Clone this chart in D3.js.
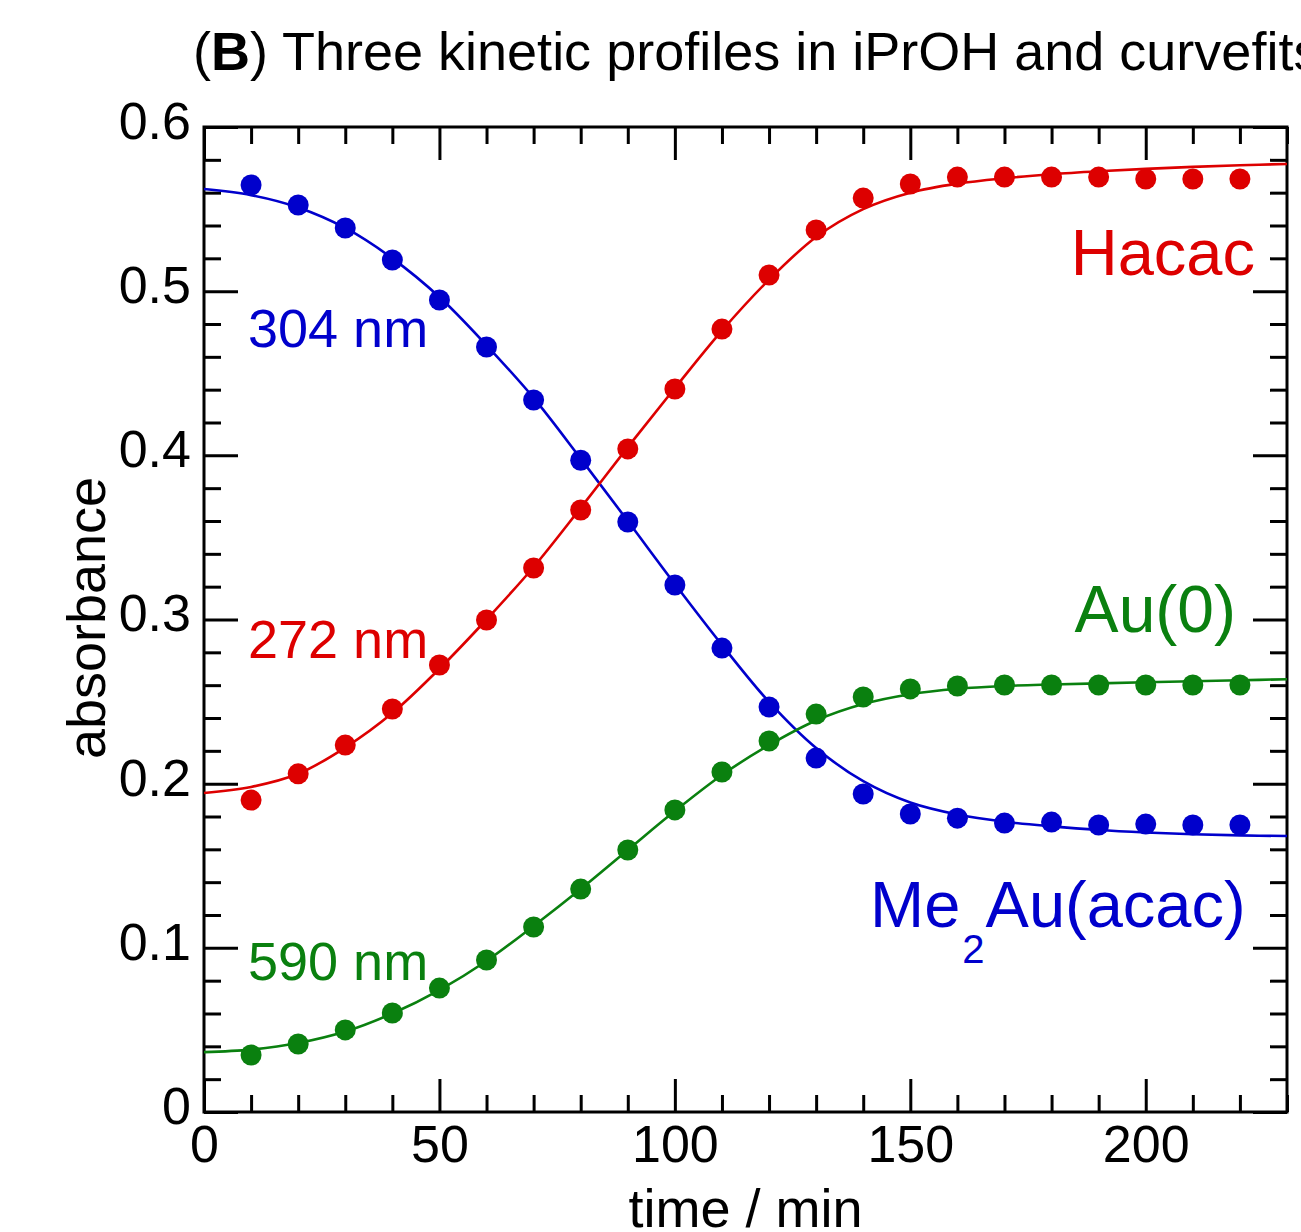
<!DOCTYPE html>
<html>
<head>
<meta charset="utf-8">
<script src="https://cdn.jsdelivr.net/npm/d3@7"></script>
<style>
  body { margin: 0; background: #fff; }
  svg { display: block; font-family: "Liberation Sans", Arial, sans-serif; }
</style>
</head>
<body>
<div id="chart"></div>
<script>
// measured points, time in min
const times = [10, 20, 30, 40, 50, 60, 70, 80, 90, 100, 110, 120, 130, 140, 150, 160, 170, 180, 190, 200, 210, 220];
const abs304 = [0.5647, 0.5525, 0.5385, 0.519, 0.4946, 0.466, 0.4337, 0.397, 0.3594, 0.321, 0.2826, 0.2467, 0.2156, 0.1937, 0.1815, 0.179, 0.176, 0.1766, 0.1748, 0.1754, 0.1748, 0.1748];
const abs272 = [0.190, 0.206, 0.2235, 0.2455, 0.2723, 0.2997, 0.3314, 0.3667, 0.4039, 0.4404, 0.4769, 0.5098, 0.5373, 0.5567, 0.5653, 0.5695, 0.5695, 0.5695, 0.5695, 0.5683, 0.5683, 0.5683];
const abs590 = [0.0347, 0.0414, 0.050, 0.0603, 0.0755, 0.0926, 0.1127, 0.1358, 0.1596, 0.184, 0.2071, 0.226, 0.2424, 0.2528, 0.2577, 0.2595, 0.2601, 0.2601, 0.2601, 0.2601, 0.2601, 0.2601];

const fitTimes = [0, 10, 20, 30, 40, 50, 60, 70, 80, 90, 100, 110, 120, 130, 140, 150, 160, 170, 180, 190, 200, 210, 220, 230];
const fit304 = [0.5622, 0.5585, 0.551, 0.5385, 0.520, 0.4964, 0.467, 0.435, 0.398, 0.360, 0.3216, 0.2845, 0.2498, 0.2217, 0.2015, 0.1885, 0.1812, 0.1768, 0.174, 0.1718, 0.1703, 0.1692, 0.1685, 0.1681];
const fit272 = [0.1943, 0.1980, 0.2060, 0.222, 0.243, 0.270, 0.300, 0.332, 0.368, 0.405, 0.441, 0.476, 0.507, 0.533, 0.550, 0.560, 0.5655, 0.5688, 0.5712, 0.573, 0.5745, 0.5757, 0.5767, 0.5775];
const fit590 = [0.0365, 0.0380, 0.0420, 0.0490, 0.0600, 0.0743, 0.092, 0.1133, 0.1358, 0.1596, 0.1833, 0.2053, 0.2235, 0.2385, 0.2485, 0.2545, 0.2578, 0.2595, 0.2604, 0.2611, 0.2618, 0.2624, 0.263, 0.2636];

const xTicks = [0, 50, 100, 150, 200];
const yTicks = [0, 0.1, 0.2, 0.3, 0.4, 0.5, 0.6];

const blue = "#0000cc", red = "#dd0000", green = "#0a800f";

const W = 1301, H = 1232;
const margin = {top: 127, right: 14, bottom: 120, left: 204};
const width = W - margin.left - margin.right;
const height = H - margin.top - margin.bottom;

const svg = d3.select("#chart").append("svg")
    .attr("width", W)
    .attr("height", H);

// title
const title = svg.append("text")
    .attr("x", 193)
    .attr("y", 70)
    .style("font-size", "54px")
    .attr("fill", "#000");
title.append("tspan").text("(");
title.append("tspan").style("font-weight", "bold").text("B");
title.append("tspan").text(") Three kinetic profiles in iPrOH and curvefits");

const g = svg.append("g")
    .attr("transform", "translate(" + margin.left + "," + margin.top + ")");

const x = d3.scaleLinear().domain([0, 230]).range([0, width]);
const y = d3.scaleLinear().domain([0, 0.6]).range([height, 0]);

const minorX = d3.range(0, 231, 10).filter(d => d % 50 !== 0);
const minorY = d3.range(0, 31, 1).map(d => d * 0.02).filter((d, i) => i % 5 !== 0);

function styleAxis(sel) {
    sel.select(".domain").remove();
    sel.selectAll("line").attr("stroke", "#000").attr("stroke-width", 3);
    sel.selectAll("text").style("font-size", "52px").attr("fill", "#000");
}

// bottom
g.append("g").attr("transform", "translate(0," + height + ")")
    .call(d3.axisBottom(x).tickValues(xTicks).tickSize(-33).tickPadding(13).tickFormat(d3.format("d")))
    .call(styleAxis);
g.append("g").attr("transform", "translate(0," + height + ")")
    .call(d3.axisBottom(x).tickValues(minorX).tickSize(-17).tickFormat(""))
    .call(styleAxis);
// top
g.append("g")
    .call(d3.axisTop(x).tickValues(xTicks).tickSize(-33).tickFormat(""))
    .call(styleAxis);
g.append("g")
    .call(d3.axisTop(x).tickValues(minorX).tickSize(-17).tickFormat(""))
    .call(styleAxis);
// left
g.append("g")
    .call(d3.axisLeft(y).tickValues(yTicks).tickSize(-34).tickPadding(13).tickFormat(d => d === 0 ? "0" : d3.format(".1f")(d)))
    .call(styleAxis)
    .call(a => a.selectAll("text").attr("dy", "0.22em"));
g.append("g")
    .call(d3.axisLeft(y).tickValues(minorY).tickSize(-17).tickFormat(""))
    .call(styleAxis);
// right
g.append("g").attr("transform", "translate(" + width + ",0)")
    .call(d3.axisRight(y).tickValues(yTicks).tickSize(-34).tickFormat(""))
    .call(styleAxis);
g.append("g").attr("transform", "translate(" + width + ",0)")
    .call(d3.axisRight(y).tickValues(minorY).tickSize(-17).tickFormat(""))
    .call(styleAxis);

// frame
g.append("rect")
    .attr("width", width)
    .attr("height", height)
    .attr("fill", "none")
    .attr("stroke", "#000")
    .attr("stroke-width", 3);

// axis titles
svg.append("text")
    .attr("transform", "translate(105,618) rotate(-90)")
    .attr("text-anchor", "middle")
    .style("font-size", "54px")
    .text("absorbance");
svg.append("text")
    .attr("x", margin.left + x(115))
    .attr("y", 1227)
    .attr("text-anchor", "middle")
    .style("font-size", "54px")
    .text("time / min");

const line = d3.line()
    .x(d => x(d[0]))
    .y(d => y(d[1]))
    .curve(d3.curveCatmullRom.alpha(0.5));

const series = [
    {pts: abs304, fit: fit304, color: blue},
    {pts: abs272, fit: fit272, color: red},
    {pts: abs590, fit: fit590, color: green}
];

series.forEach(s => {
    g.append("path")
        .datum(fitTimes.map((t, i) => [t, s.fit[i]]))
        .attr("fill", "none")
        .attr("stroke", s.color)
        .attr("stroke-width", 2.6)
        .attr("d", line);
    g.selectAll(null)
        .data(times.map((t, i) => [t, s.pts[i]]))
        .join("circle")
        .attr("cx", d => x(d[0]))
        .attr("cy", d => y(d[1]))
        .attr("r", 10.5)
        .attr("fill", s.color);
});

// in-plot labels
function label(txt, xx, yy, size, color, anchor) {
    svg.append("text")
        .attr("x", xx).attr("y", yy)
        .attr("text-anchor", anchor || "start")
        .style("font-size", size + "px")
        .attr("fill", color)
        .text(txt);
}
label("304 nm", 248, 347, 54, blue);
label("272 nm", 248, 658, 54, red);
label("590 nm", 248, 980, 54, green);
label("Hacac", 1255, 275, 65, red, "end");
label("Au(0)", 1236, 632, 66, green, "end");

const me = svg.append("text")
    .attr("x", 870).attr("y", 927)
    .style("font-size", "65px")
    .attr("fill", blue);
me.append("tspan").text("Me");
me.append("tspan").attr("dy", 36).attr("dx", 2).style("font-size", "40px").text("2");
me.append("tspan").attr("dy", -36).attr("dx", 1).text("Au(acac)");
</script>
</body>
</html>
